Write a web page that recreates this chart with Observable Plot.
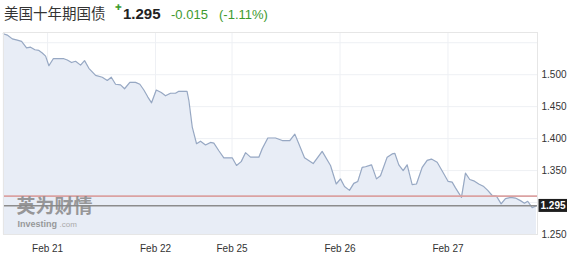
<!DOCTYPE html>
<html>
<head>
<meta charset="utf-8">
<script src="https://cdn.jsdelivr.net/npm/d3@7"></script>
<script src="https://cdn.jsdelivr.net/npm/@observablehq/plot@0.6"></script>
<style>
  html, body { margin: 0; padding: 0; background: #fff; }
  #header { height: 28px; position: relative; font-family: "Liberation Sans", Arial, sans-serif; white-space: nowrap; }
  #header span { position: absolute; top: 6px; line-height: 16px; }
  .name { left: 4px; font-family: "Noto Sans CJK SC", sans-serif; font-size: 14.5px; color: #333; top: 5px !important; }
  .mark { left: 115px; top: 0px !important; font-size: 8px; color: #3d9a2e; }
  .last { left: 123px; font-size: 15px; font-weight: bold; color: #222; }
  .chg { left: 171px; font-size: 13px; color: #3d9a2e; top: 7px !important; }
  .pct { left: 219px; font-size: 13px; color: #3d9a2e; top: 7px !important; }
</style>
</head>
<body>
<div id="header">
  <span class="name">美国十年期国债</span>
  <span class="mark">✚</span>
  <span class="last">1.295</span>
  <span class="chg">-0.015</span>
  <span class="pct">(-1.11%)</span>
</div>
<div id="chart"></div>
<script>
// trading hours since Feb 21 00:00 (weekend removed)
const hours = [-9.84,-8.96,-7.84,-6.73,-5.78,-4.67,-3.78,-2.82,-1.93,-1.18,-0.44,0.29,1.27,2.16,3.62,4.38,5.33,6.22,7.33,8.22,9.18,10.67,12.16,13.27,14.16,15.11,16.22,17.11,18.29,19.56,20.51,21.40,22.29,23.11,24.16,25.27,26.22,27.33,28.44,29.18,31.0,31.4,32.16,33.11,34.0,35.11,36.22,36.96,38.07,39.18,41.04,42.0,43.04,44.0,45.11,46.96,47.71,48.96,50.67,52.16,53.84,54.96,55.84,57.11,59.04,61.04,62.89,64.16,65.11,66.0,67.11,68.07,68.96,69.93,70.67,72.0,73.11,74.0,75.49,76.6,77.18,78.07,79.04,79.93,81.04,82.0,83.27,84.38,85.33,86.6,88.07,89.04,89.93,90.67,92.0,92.89,93.84,94.73,95.84,96.96,97.84,98.82,99.78,100.82,101.78,102.89,104.0,105.11,106.0,106.73,107.71,108.67];
const yields = [1.564,1.562,1.556,1.554,1.552,1.542,1.543,1.539,1.538,1.534,1.529,1.514,1.525,1.525,1.525,1.523,1.519,1.521,1.515,1.522,1.510,1.499,1.496,1.491,1.496,1.485,1.484,1.478,1.488,1.488,1.485,1.476,1.465,1.456,1.476,1.472,1.467,1.471,1.471,1.474,1.474,1.460,1.418,1.392,1.396,1.390,1.394,1.393,1.381,1.370,1.370,1.358,1.364,1.378,1.371,1.371,1.384,1.401,1.401,1.397,1.397,1.407,1.392,1.370,1.361,1.380,1.358,1.329,1.337,1.325,1.319,1.330,1.333,1.355,1.356,1.359,1.337,1.342,1.371,1.376,1.377,1.359,1.350,1.359,1.328,1.329,1.355,1.366,1.368,1.363,1.345,1.333,1.332,1.323,1.308,1.346,1.336,1.334,1.329,1.325,1.319,1.311,1.310,1.298,1.306,1.308,1.307,1.303,1.299,1.302,1.292,1.295];
const tickHours = [0, 24, 41, 65, 89];
const tickLabels = ["Feb 21", "Feb 22", "Feb 25", "Feb 26", "Feb 27"];
const yTicks = [1.25, 1.35, 1.40, 1.45, 1.50];
const yGrid = [1.30, 1.35, 1.40, 1.45, 1.50, 1.55];
const prevClose = 1.310;
const lastValue = 1.295;

const data = hours.map((h, i) => ({h, v: yields[i]}));
const xMax = 108.9;
const lastText = d3.format(".3f")(lastValue);

const chart = Plot.plot({
  width: 567,
  height: 231,
  marginLeft: 3,
  marginRight: 30,
  marginTop: 4,
  marginBottom: 25,
  style: {fontFamily: "'Liberation Sans', Arial, sans-serif", fontSize: "10px", color: "#333", background: "#fff"},
  x: {type: "linear", domain: [-9.8, xMax]},
  y: {domain: [1.25, 1.566]},
  marks: [
    Plot.ruleY(yGrid, {stroke: "#eef0f4"}),
    Plot.ruleX(tickHours, {stroke: "#eef0f4"}),
    Plot.areaY(data, {x: "h", y1: 1.25, y2: "v", fill: "#e8edf6"}),
    Plot.lineY(data, {x: "h", y: "v", stroke: "#97a8c3", strokeWidth: 1.2}),
    Plot.ruleY([prevClose], {stroke: "#dba2a2", strokeWidth: 1.6}),
    Plot.ruleY([lastValue], {stroke: "#8c8c8c", strokeWidth: 1.6}),
    Plot.frame({stroke: "#e6e6e6"}),
    Plot.text(["英为财情"], {frameAnchor: "bottom-left", dx: 13, dy: -22, fill: "#888", fontSize: 19, fontWeight: "bold", fontFamily: "Noto Sans CJK SC", textAnchor: "start", opacity: 0.85}),
    Plot.text(["Investing"], {frameAnchor: "bottom-left", dx: 14, dy: -8, fill: "#8a8a8a", fontSize: 9, fontWeight: "bold", textAnchor: "start", opacity: 0.85}),
    Plot.text([".com"], {frameAnchor: "bottom-left", dx: 56, dy: -8, fill: "#aaa", fontSize: 8, textAnchor: "start"}),
    Plot.axisY({anchor: "right", ticks: yTicks, tickFormat: d3.format(".3f"), tickSize: 0, tickPadding: 4, label: null, fill: "#333"}),
    Plot.axisX({ticks: tickHours, tickFormat: (d) => tickLabels[tickHours.indexOf(d)], tickSize: 0, tickPadding: 10, label: null, fill: "#333"}),
    Plot.text([lastValue], {x: () => xMax, y: (d) => d, text: () => lastText, dx: 3, textAnchor: "start", fill: "white", fontWeight: "bold", fontSize: 10, clip: false})
  ]
});
document.getElementById("chart").append(chart);

// black box behind the last-value label
const labelNodes = Array.from(chart.querySelectorAll("text")).filter((n) => n.textContent.trim() === lastText);
labelNodes.forEach((node) => {
  const b = node.getBBox();
  const t = node.getAttribute("transform");
  const r = document.createElementNS("http://www.w3.org/2000/svg", "rect");
  r.setAttribute("x", b.x - 2);
  r.setAttribute("y", b.y - 1);
  r.setAttribute("width", b.width + 4);
  r.setAttribute("height", b.height + 2);
  r.setAttribute("fill", "#1e1e1e");
  if (t) r.setAttribute("transform", t);
  node.parentNode.insertBefore(r, node);
});
</script>
</body>
</html>
